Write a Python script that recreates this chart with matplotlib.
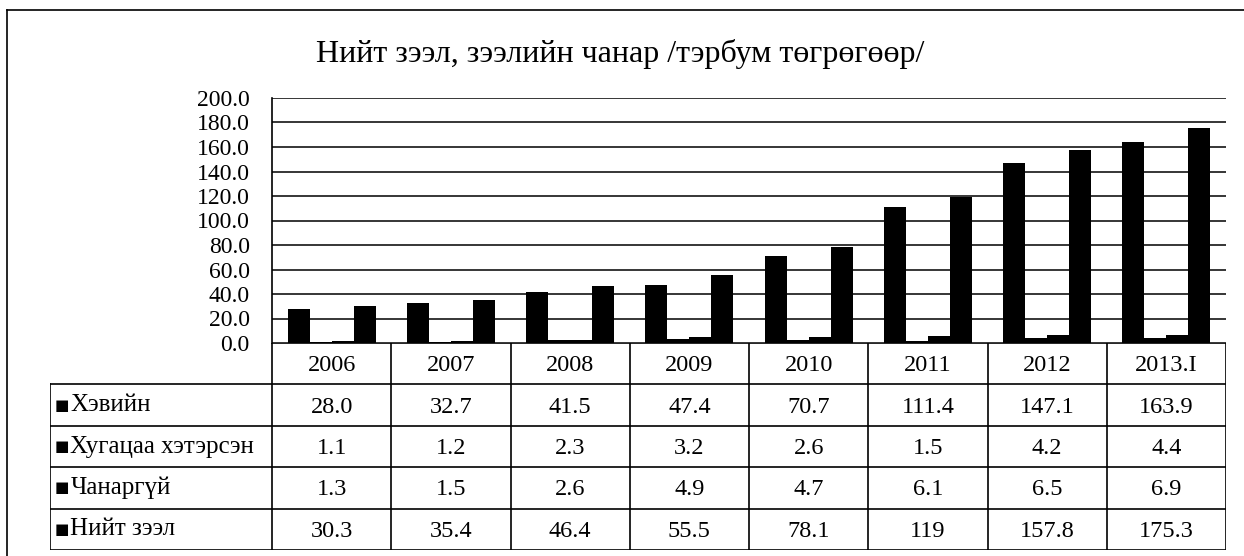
import numpy as np
import matplotlib.pyplot as plt
from matplotlib.lines import Line2D

# Data
years = ["2006", "2007", "2008", "2009", "2010", "2011", "2012", "2013.I"]
series_names = ["Хэвийн", "Хугацаа хэтэрсэн", "Чанаргүй", "Нийт зээл"]
normal = [28.0, 32.7, 41.5, 47.4, 70.7, 111.4, 147.1, 163.9]
overdue = [1.1, 1.2, 2.3, 3.2, 2.6, 1.5, 4.2, 4.4]
bad = [1.3, 1.5, 2.6, 4.9, 4.7, 6.1, 6.5, 6.9]
total = [30.3, 35.4, 46.4, 55.5, 78.1, 119, 157.8, 175.3]
table_text = [
    ["28.0", "32.7", "41.5", "47.4", "70.7", "111.4", "147.1", "163.9"],
    ["1.1", "1.2", "2.3", "3.2", "2.6", "1.5", "4.2", "4.4"],
    ["1.3", "1.5", "2.6", "4.9", "4.7", "6.1", "6.5", "6.9"],
    ["30.3", "35.4", "46.4", "55.5", "78.1", "119", "157.8", "175.3"],
]
yticks = np.arange(0, 201, 20)

plt.rcParams['font.family'] = ['Liberation Serif', 'DejaVu Serif']

W, H = 1244, 556
fig = plt.figure(figsize=(W / 100, H / 100), dpi=100)

def fx(px):
    return px / W

def fy(py):
    return 1 - py / H

# outer frame (top and left only, image is cropped)
fig.add_artist(Line2D([fx(7), 1], [fy(10), fy(10)], color='black', lw=1.2))
fig.add_artist(Line2D([fx(7), fx(7)], [fy(10), 0], color='black', lw=1.2))

fig.text(fx(620), fy(54), "Нийт зээл, зээлийн чанар /тэрбум төгрөгөөр/",
         ha='center', va='center', fontsize=23)

# bar chart
plot_l, plot_r, plot_t, plot_b = 272, 1226, 98, 343
ax = fig.add_axes([fx(plot_l), fy(plot_b), fx(plot_r - plot_l), (plot_b - plot_t) / H])
x = np.arange(len(years))
bw = 0.185
for i, vals in enumerate([normal, overdue, bad, total]):
    ax.bar(x + (i - 1.5) * bw, vals, width=bw, color='black', zorder=3)
ax.set_xlim(-0.5, len(years) - 0.5)
ax.set_ylim(0, 200)
ax.set_yticks(yticks)
ax.set_yticklabels([f"{v:.1f}" for v in yticks], fontsize=17)
ax.tick_params(axis='y', length=0, pad=16)
ax.set_xticks([])
ax.grid(axis='y', color='black', lw=1.1, zorder=1)
for s in ['top', 'right', 'bottom']:
    ax.spines[s].set_visible(False)
ax.spines['left'].set_linewidth(1.2)

# data table under the chart
tab_l, tab_b = 50, 550
lab_w = (plot_l - tab_l) / ((plot_r - plot_l) / len(years))
tax = fig.add_axes([fx(tab_l), fy(tab_b), fx(plot_r - tab_l), (tab_b - plot_b) / H])
tax.set_xlim(-0.5 - lab_w, len(years) - 0.5)
tax.set_ylim(5, 0)
tax.axis('off')
lw = 1.2
# header row
tax.plot([-0.5, len(years) - 0.5], [0, 0], color='black', lw=lw)
for k in range(len(years) + 1):
    tax.plot([k - 0.5, k - 0.5], [0, 5], color='black', lw=lw)
for r in range(1, 6):
    tax.plot([-0.5 - lab_w, len(years) - 0.5], [r, r], color='black', lw=lw)
tax.plot([-0.5 - lab_w, -0.5 - lab_w], [1, 5], color='black', lw=lw)
for k, yr in enumerate(years):
    tax.text(k, 0.55, yr, ha='center', va='center', fontsize=17.5)
for r, name in enumerate(series_names):
    tax.text(-0.5 - lab_w + 0.04, r + 1.5, "■", ha='left', va='center',
             fontsize=11, family='DejaVu Sans')
    tax.text(-0.5 - lab_w + 0.17, r + 1.5, name, ha='left', va='center', fontsize=18)
    for k, val in enumerate(table_text[r]):
        tax.text(k, r + 1.55, val, ha='center', va='center', fontsize=17.5)

fig.savefig("out.png", dpi=100)
